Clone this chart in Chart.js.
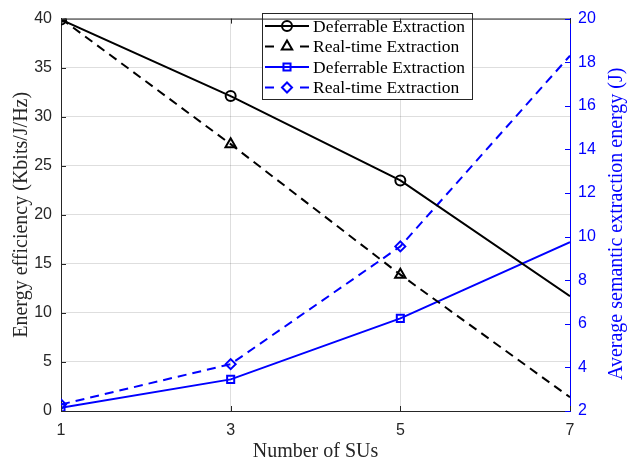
<!DOCTYPE html>
<html>
<head>
<meta charset="utf-8">
<script src="https://cdn.jsdelivr.net/npm/chart.js@4.4.1/dist/chart.umd.min.js"></script>
<style>
  html, body { margin: 0; padding: 0; background: #fff; }
  #wrap { width: 631px; height: 462px; }
</style>
</head>
<body>
<div id="wrap"><canvas id="chart" width="631" height="462"></canvas></div>
<script>
// data
const suCounts = [1, 3, 5, 7];
const xTicks = [1, 3, 5, 7];
const eeDeferrable = [39.9, 32.1, 23.5, 11.7];
const eeRealtime = [40.0, 27.2, 13.9, 1.4];
const energyDeferrable = [2.15, 3.45, 6.25, 9.75];
const energyRealtime = [2.3, 4.15, 9.55, 18.3];
const seriesLabels = ['Deferrable Extraction', 'Real-time Extraction', 'Deferrable Extraction', 'Real-time Extraction'];
const rightTitle = 'Average semantic extraction energy (J)';

const BLUE = '#0000ff';
const DASH = [9, 6];

function pts(values) {
    return values.map((v, i) => ({ x: suCounts[i], y: v }));
}

const SERIF = "'Liberation Serif', 'Times New Roman', serif";
const SANS = "'Liberation Sans', Arial, sans-serif";

// inward ticks, top frame and the right axis title (reads bottom to top)
const framePlugin = {
    id: 'frame',
    afterDraw(chart) {
        const { ctx, chartArea: a, scales } = chart;
        ctx.save();
        ctx.lineWidth = 1;
        ctx.strokeStyle = '#262626';
        ctx.beginPath();
        ctx.moveTo(a.left, a.top + 0.5);
        ctx.lineTo(a.right, a.top + 0.5);
        scales.y.ticks.forEach(t => {
            const y = Math.round(scales.y.getPixelForValue(t.value)) + 0.5;
            ctx.moveTo(a.left, y);
            ctx.lineTo(a.left + 5, y);
        });
        scales.x.ticks.forEach(t => {
            const x = Math.round(scales.x.getPixelForValue(t.value)) + 0.5;
            ctx.moveTo(x, a.bottom);
            ctx.lineTo(x, a.bottom - 5);
            ctx.moveTo(x, a.top);
            ctx.lineTo(x, a.top + 5);
        });
        ctx.stroke();
        ctx.strokeStyle = BLUE;
        ctx.beginPath();
        scales.y1.ticks.forEach(t => {
            const y = Math.round(scales.y1.getPixelForValue(t.value)) + 0.5;
            ctx.moveTo(a.right, y);
            ctx.lineTo(a.right - 5, y);
        });
        ctx.stroke();

        ctx.translate(617, (a.top + a.bottom) / 2 + 9);
        ctx.rotate(-Math.PI / 2);
        ctx.fillStyle = BLUE;
        ctx.font = '20px ' + SERIF;
        ctx.textAlign = 'center';
        ctx.textBaseline = 'middle';
        ctx.fillText(rightTitle, 0, 0);
        ctx.restore();
    }
};

// legend box drawn inside the plot area
const boxLegend = {
    id: 'boxLegend',
    afterDatasetsDraw(chart) {
        const ctx = chart.ctx;
        const left = 262, top = 13, w = 210, h = 86, row = 20.5;
        ctx.save();
        ctx.fillStyle = '#fff';
        ctx.fillRect(left, top, w, h);
        ctx.strokeStyle = '#262626';
        ctx.lineWidth = 1;
        ctx.strokeRect(left + 0.5, top + 0.5, w, h);
        chart.data.datasets.forEach((ds, i) => {
            const y = top + 13 + i * row;
            ctx.strokeStyle = ds.borderColor;
            ctx.lineWidth = 2;
            ctx.beginPath();
            if (ds.borderDash) {
                ctx.moveTo(265, y); ctx.lineTo(274, y);
                ctx.moveTo(300, y); ctx.lineTo(309, y);
            } else {
                ctx.moveTo(265, y); ctx.lineTo(309, y);
            }
            ctx.stroke();
            const opts = {
                pointStyle: ds.pointStyle, radius: ds.legendRadius, rotation: 0,
                borderWidth: 2
            };
            ctx.strokeStyle = ds.borderColor;
            ctx.fillStyle = ds.pointBackgroundColor;
            Chart.helpers.drawPoint(ctx, opts, 287, y);
            ctx.fillStyle = '#000';
            ctx.font = '17.5px ' + SERIF;
            ctx.textBaseline = 'middle';
            ctx.fillText(ds.label, 313, y + 1);
        });
        ctx.restore();
    }
};

function lineSet(label, values, color, style, dashed, axis, r) {
    return {
        label: label,
        data: pts(values),
        yAxisID: axis,
        borderColor: color,
        borderWidth: 2,
        borderDash: dashed ? DASH : undefined,
        pointStyle: style,
        pointRadius: [r, r, r, 0], // no marker at the last point
        legendRadius: r,
        pointBorderWidth: 2,
        pointBorderColor: color,
        pointBackgroundColor: 'rgba(0,0,0,0)',
        tension: 0,
        clip: 0
    };
}

const ctx = document.getElementById('chart').getContext('2d');
new Chart(ctx, {
    type: 'line',
    data: {
        datasets: [
            lineSet(seriesLabels[0], eeDeferrable, '#000', 'circle', false, 'y', 5),
            lineSet(seriesLabels[1], eeRealtime, '#000', 'triangle', true, 'y', 6),
            lineSet(seriesLabels[2], energyDeferrable, BLUE, 'rect', false, 'y1', 5),
            lineSet(seriesLabels[3], energyRealtime, BLUE, 'rectRot', true, 'y1', 5)
        ]
    },
    options: {
        responsive: false,
        animation: false,
        layout: { padding: { top: 15, left: 0, right: 0, bottom: 0 } },
        plugins: {
            legend: { display: false },
            tooltip: { enabled: false }
        },
        scales: {
            x: {
                type: 'linear',
                min: 1,
                max: 7,
                afterBuildTicks: s => { s.ticks = xTicks.map(v => ({ value: v })); },
                afterFit: s => { s.height = 51; },
                grid: { color: 'rgba(0,0,0,0.13)', drawTicks: false },
                border: { color: '#262626', width: 1 },
                ticks: { padding: 10, color: '#262626', font: { family: SANS, size: 16 } },
                title: {
                    display: true, text: 'Number of SUs', color: '#262626',
                    font: { family: SERIF, size: 20, lineHeight: 1 }, padding: { top: 0, bottom: 0 }
                }
            },
            y: {
                position: 'left',
                min: 0,
                max: 40,
                afterFit: s => { s.width = 61; },
                grid: { color: 'rgba(0,0,0,0.13)', drawTicks: false },
                border: { color: '#262626', width: 1 },
                ticks: { stepSize: 5, padding: 9, color: '#262626', font: { family: SANS, size: 16 } },
                title: {
                    display: true, text: 'Energy efficiency (Kbits/J/Hz)', color: '#262626',
                    font: { family: SERIF, size: 20 }, padding: { top: 10, bottom: 0 }
                }
            },
            y1: {
                position: 'right',
                min: 2,
                max: 20,
                afterFit: s => { s.width = 61; },
                grid: { display: false, drawTicks: false },
                border: { color: BLUE, width: 1 },
                ticks: { stepSize: 2, padding: 8, color: BLUE, font: { family: SANS, size: 16 } },
                title: { display: false }
            }
        }
    },
    plugins: [framePlugin, boxLegend]
});
</script>
</body>
</html>
